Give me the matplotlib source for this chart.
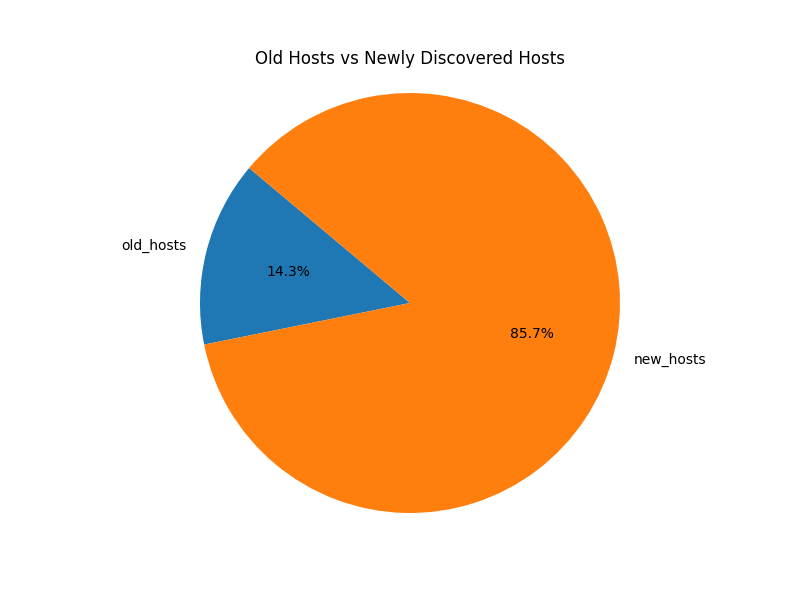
import matplotlib
matplotlib.use("Agg")
import matplotlib.pyplot as plt

labels = ["old_hosts", "new_hosts"]
counts = [1, 6]

fig = plt.figure(figsize=(8, 6), dpi=100)
plt.pie(counts, labels=labels, autopct="%1.1f%%", startangle=140)
plt.axis("equal")
plt.title("Old Hosts vs Newly Discovered Hosts")
plt.savefig("out.png")
